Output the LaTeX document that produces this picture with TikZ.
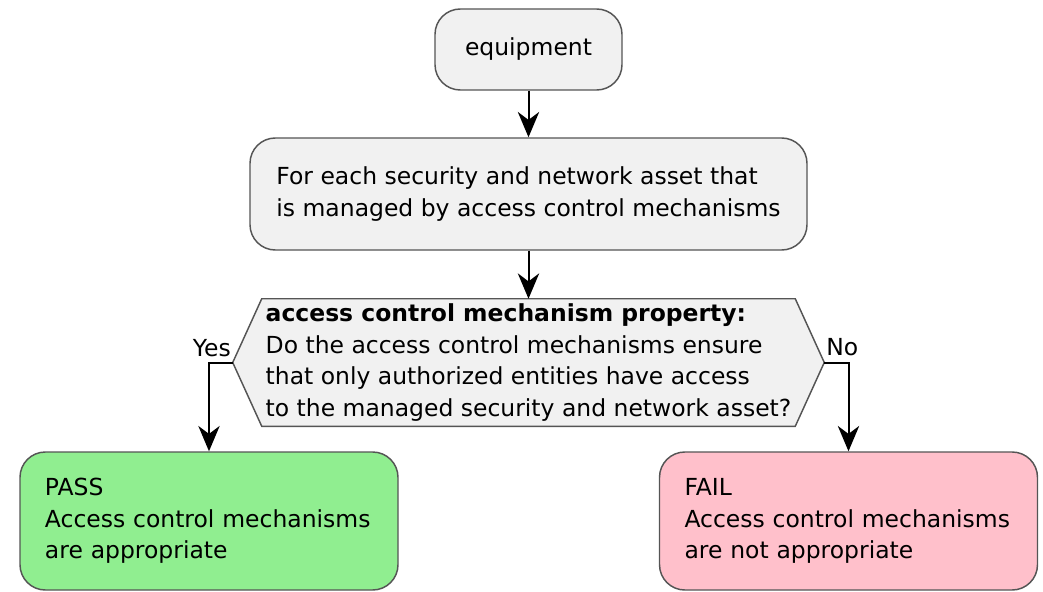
\documentclass[tikz,border=0pt]{standalone}
\usepackage{fontspec}
\setmainfont{DejaVu Sans}
\usetikzlibrary{arrows.meta,backgrounds}
\definecolor{boxfill}{HTML}{F1F1F1}
\definecolor{boxline}{HTML}{555555}
\definecolor{passfill}{HTML}{90EE90}
\definecolor{failfill}{HTML}{FFC0CB}
\newcommand\fs{\fontsize{17.6}{23.6}\selectfont}
\tikzset{
  box/.style={draw=boxline, line width=1.1pt, rounded corners=19pt, fill=boxfill, inner sep=0pt, font=\fs},
  result/.style={box, minimum width=283.5pt, minimum height=103.5pt, inner xsep=18.75pt, text width=246pt, align=left},
  conn/.style={draw=black, line width=1.5pt, -{Stealth[length=19pt,width=16pt,inset=6pt]}},
  lbl/.style={inner sep=0pt, font=\fs},
}
\begin{document}
\begin{tikzpicture}[x=0.75pt,y=-0.75pt]
\useasboundingbox (0,0) rectangle (1043,592);
\node[box, minimum width=140.25pt, minimum height=60.75pt] (equip) at (528.5,49.5) {equipment};
\node[box, minimum width=417.75pt, minimum height=84pt, align=left] (each) at (528.5,194)
  {For each security and network asset that\\is managed by access control mechanisms};
\node[inner sep=0pt, minimum width=399.75pt, minimum height=95.25pt, align=left, font=\fs] (hex) at (528.5,362.5)
  {\textbf{access control mechanism property:}\\Do the access control mechanisms ensure\\that only authorized entities have access\\to the managed security and network asset?};
\coordinate (hl) at ([xshift=-21.75pt]hex.west);
\coordinate (hr) at ([xshift=21.75pt]hex.east);
\begin{scope}[on background layer]
\draw[draw=boxline, line width=1.1pt, fill=boxfill] (hex.north west) -- (hl) -- (hex.south west) -- (hex.south east) -- (hr) -- (hex.north east) -- cycle;
\end{scope}
\node[result, fill=passfill] (pass) at (209,521) {PASS\\Access control mechanisms\\are appropriate};
\node[result, fill=failfill] (fail) at (848.5,521) {FAIL\\Access control mechanisms\\are not appropriate};
\draw[conn] (equip) -- (each);
\draw[conn] (each) -- (hex.north);
\draw[conn] (hl) -| (pass.north);
\draw[conn] (hr) -| (fail.north);
\node[lbl, anchor=base east] (yes) at (231,356) {Yes};
\node[lbl, anchor=base west] (no) at (826,355) {No};
\end{tikzpicture}
\end{document}
